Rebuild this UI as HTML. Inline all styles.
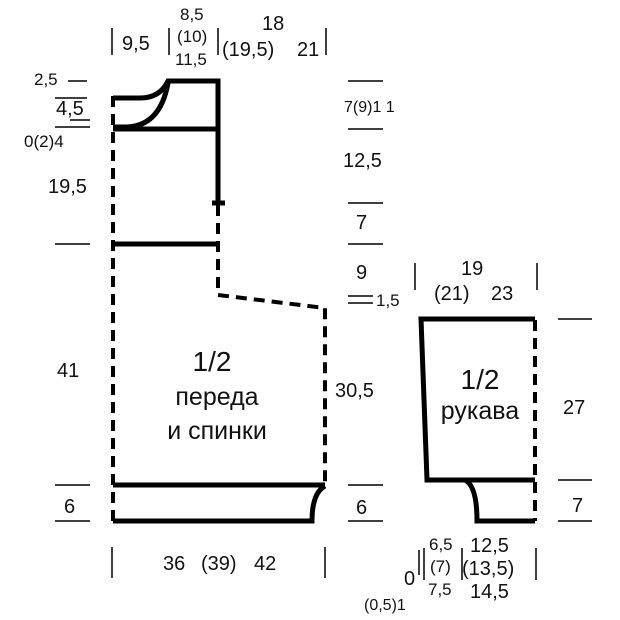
<!DOCTYPE html>
<html><head><meta charset="utf-8"><style>
html,body{margin:0;padding:0;background:#fff}
svg{display:block}
text{font-family:"Liberation Sans Narrow","Liberation Sans",sans-serif;fill:#111}
</style></head><body>
<svg width="620" height="620" viewBox="0 0 620 620" xmlns="http://www.w3.org/2000/svg">
<g stroke="#000" fill="none" stroke-linecap="butt">
<path d="M166,81 H218 V203" stroke-width="5"/>
<path d="M212,203 H225" stroke-width="5"/>
<path d="M113,129 H218" stroke-width="5"/>
<path d="M113,98 H140 Q160,98 168,81" stroke-width="5"/>
<path d="M113,127 H125 Q160,127 168,83" stroke-width="5"/>
<path d="M113,244 H218" stroke-width="5"/>
<path d="M113,485 H325" stroke-width="5"/>
<path d="M113,521 H312 Q312,493 325,486" stroke-width="5"/>
<path d="M113,96 V521" stroke-width="4" stroke-dasharray="11,7"/>
<path d="M218,205 V295 L325,308 V485" stroke-width="4" stroke-dasharray="11,7"/>
<path d="M535,319 H421 L427,480 H535" stroke-width="5"/>
<path d="M465,480 Q477,486 477,521 H535" stroke-width="5"/>
<path d="M535,320 V521" stroke-width="4" stroke-dasharray="11,7"/>
<g stroke-width="1.5">
<path d="M112,28 V55 M169,28 V55 M218,28 V55 M326,28 V55"/>
<path d="M68,81 H87 M55,98 H87 M70,120 H90 M55,127 H90 M55,244 H90 M55,485 H90 M55,521 H90"/>
<path d="M348,81 H383 M348,129 H383 M348,203 H383 M348,244 H383 M348,296 H373 M348,303 H373 M348,485 H383 M348,521 H383"/>
<path d="M415,263 V290 M537,263 V290"/>
<path d="M558,319 H592 M558,480 H592 M558,521 H592"/>
<path d="M112,547 V578 M325,547 V578"/>
<path d="M419,550 V575 M424,548 V580 M462,548 V580 M536,548 V580"/>
</g>
</g>
<g font-size="20">
<text x="122" y="50">9,5</text>
<text x="180" y="20" font-size="17">8,5</text>
<text x="177" y="42" font-size="17">(10)</text>
<text x="175" y="65" font-size="17">11,5</text>
<text x="262" y="30">18</text>
<text x="222" y="56">(19,5)</text>
<text x="297" y="56">21</text>
<text x="34" y="85" font-size="17">2,5</text>
<text x="56" y="115">4,5</text>
<text x="24" y="147" font-size="17">0(2)4</text>
<text x="48" y="193">19,5</text>
<text x="57" y="377">41</text>
<text x="64" y="513">6</text>
<text x="344" y="112" font-size="16">7(9)1 1</text>
<text x="343" y="167">12,5</text>
<text x="356" y="229">7</text>
<text x="356" y="279">9</text>
<text x="376" y="306" font-size="17">1,5</text>
<text x="335" y="397">30,5</text>
<text x="356" y="514">6</text>
<text x="461" y="275">19</text>
<text x="434" y="300">(21)</text>
<text x="491" y="300">23</text>
<text x="563" y="414">27</text>
<text x="572" y="512">7</text>
<text x="163" y="570">36</text>
<text x="201" y="570">(39)</text>
<text x="254" y="570">42</text>
<text x="429" y="550" font-size="17">6,5</text>
<text x="430" y="572" font-size="17">(7)</text>
<text x="428" y="595" font-size="17">7,5</text>
<text x="470" y="552">12,5</text>
<text x="462" y="575">(13,5)</text>
<text x="470" y="598">14,5</text>
<text x="404" y="585">0</text>
<text x="364" y="610" font-size="16">(0,5)1</text>
</g>
<g font-size="28" text-anchor="middle">
<text x="212" y="371">1/2</text>
<text x="217" y="405" font-size="25">переда</text>
<text x="217" y="439" font-size="25">и спинки</text>
<text x="480" y="389">1/2</text>
<text x="480" y="419" font-size="25">рукава</text>
</g>
</svg>
</body></html>
